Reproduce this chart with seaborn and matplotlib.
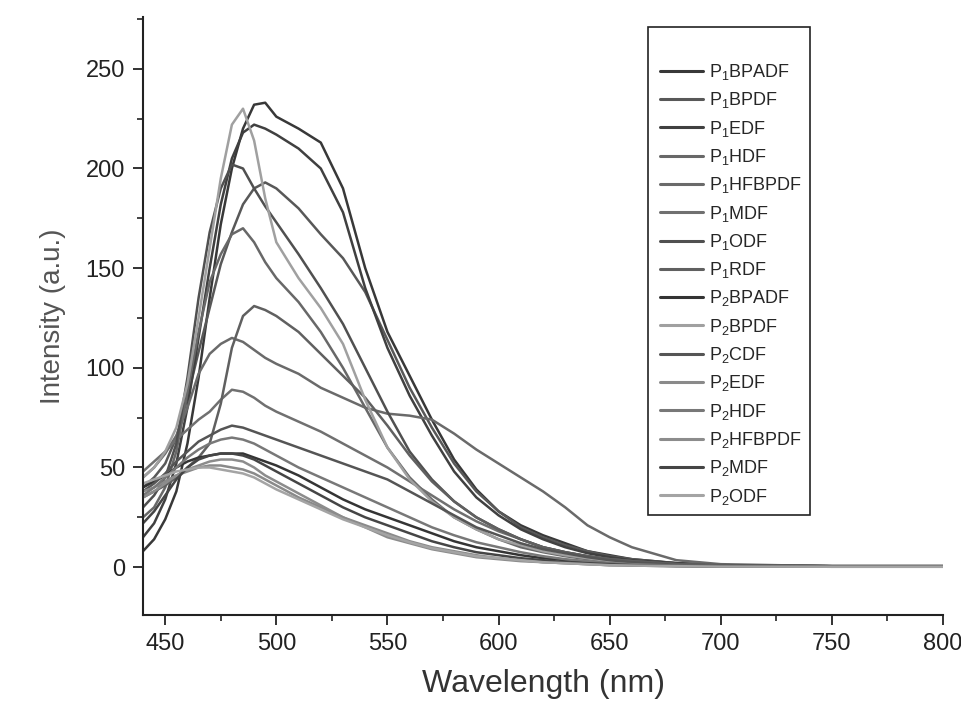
import matplotlib
matplotlib.use("Agg")
import matplotlib.pyplot as plt
from matplotlib.patches import Rectangle
from matplotlib.ticker import MultipleLocator
import pandas as pd
import seaborn as sns

# Emission wavelengths (nm) at which each spectrum is tabulated
wavelength = [440, 445, 450, 455, 460, 465, 470, 475, 480, 485, 490, 495, 500,
              510, 520, 530, 540, 550, 560, 570, 580, 590, 600, 610, 620, 630,
              640, 650, 660, 680, 700, 750, 800]

p1_bpadf = [8, 14, 24, 38, 62, 95, 135, 172, 200, 220, 232, 233, 226, 220, 213, 190, 150, 118,
            96, 74, 54, 39, 28, 21, 16, 12, 8, 6, 4, 2, 1, 0.5, 0.5]
p1_bpdf = [40, 45, 52, 65, 85, 108, 130, 152, 168, 182, 190, 193, 190, 180, 167, 155, 138, 114,
           90, 70, 52, 38, 28, 20, 15, 11, 8, 5.5, 4, 2, 1, 0.5, 0.5]
p1_edf = [15, 22, 34, 52, 80, 115, 150, 182, 205, 218, 222, 220, 217, 210, 200, 178, 140, 110,
          86, 66, 48, 35, 26, 19, 14, 10, 7, 5, 3.5, 2, 1, 0.5, 0.5]
p1_hdf = [25, 30, 40, 58, 88, 118, 143, 157, 167, 170, 163, 153, 145, 133, 118, 100, 80, 60,
          45, 34, 25, 19, 14, 10, 7.5, 5.5, 4, 3, 2, 1, 0.5, 0.3, 0.3]
p1_hfbpdf = [45, 50, 57, 66, 80, 97, 107, 112, 115, 113, 109, 105, 102, 97, 90, 85, 80, 77,
             76, 74, 67, 59, 52, 45, 38, 30, 21, 15, 10, 3.5, 1.5, 0.5, 0.5]
p1_mdf = [48, 53, 58, 64, 69, 74, 78, 84, 89, 88, 85, 81, 78, 73, 68, 62, 56, 50,
          43, 36, 29, 23, 18, 14, 10, 7.5, 5.5, 4, 3, 1.5, 1, 0.5, 0.5]
p1_odf = [30, 36, 45, 62, 95, 135, 168, 190, 202, 200, 190, 181, 173, 157, 140, 122, 100, 78,
          58, 44, 33, 25, 19, 14, 10, 7.5, 5.5, 4, 3, 1.5, 1, 0.5, 0.5]
p1_rdf = [35, 38, 41, 45, 50, 55, 62, 82, 110, 126, 131, 129, 126, 118, 107, 96, 85, 71,
          56, 43, 33, 25, 19, 14, 10, 7.5, 5.5, 4, 3, 1.5, 1, 0.5, 0.5]
p2_bpadf = [40, 43, 46, 50, 53, 55, 56, 57, 57, 57, 55, 53, 51, 46, 40, 34, 29, 25,
            21, 17, 13, 10, 8, 6, 4.5, 3.5, 2.5, 2, 1.5, 0.8, 0.5, 0.3, 0.3]
p2_bpdf = [45, 50, 58, 70, 92, 125, 160, 195, 222, 230, 214, 185, 163, 145, 130, 112, 84, 60,
           44, 33, 25, 19, 14, 11, 8, 6, 4.5, 3, 2, 1, 0.5, 0.3, 0.3]
p2_cdf = [38, 42, 47, 53, 58, 63, 66, 69, 71, 70, 68, 66, 64, 60, 56, 52, 48, 44,
          38, 32, 26, 20, 16, 12, 9, 7, 5, 3.5, 2.5, 1.2, 0.7, 0.3, 0.3]
p2_edf = [38, 40, 43, 46, 48, 50, 51, 51, 50, 49, 47, 44, 41, 35, 30, 25, 21, 17,
          13, 10, 8, 6, 4.5, 3.5, 2.5, 2, 1.5, 1, 0.8, 0.5, 0.3, 0.2, 0.2]
p2_hdf = [36, 40, 45, 50, 55, 59, 62, 64, 65, 64, 62, 59, 56, 50, 45, 40, 35, 30,
          25, 20, 16, 12.5, 10, 7.5, 5.5, 4, 3, 2, 1.5, 0.8, 0.5, 0.3, 0.3]
p2_hfbpdf = [35, 38, 42, 46, 49, 51, 53, 54, 54, 53, 50, 46, 43, 37, 31, 25, 20, 15,
             12, 9, 7, 5, 4, 3, 2.5, 2, 1.5, 1, 0.8, 0.5, 0.3, 0.2, 0.2]
p2_mdf = [22, 28, 36, 44, 50, 54, 56, 57, 57, 56, 54, 51, 48, 42, 36, 30, 25, 21,
          17, 13, 10, 7.5, 6, 4.5, 3.5, 2.5, 2, 1.5, 1, 0.6, 0.4, 0.2, 0.2]
p2_odf = [42, 44, 46, 48, 49, 50, 50, 49, 48, 47, 45, 42, 39, 34, 29, 24, 20, 16,
          12.5, 9.5, 7.5, 5.5, 4.5, 3.5, 2.5, 2, 1.5, 1, 0.8, 0.5, 0.3, 0.2, 0.2]

labels = ["P$_1$BPADF", "P$_1$BPDF", "P$_1$EDF", "P$_1$HDF", "P$_1$HFBPDF", "P$_1$MDF",
          "P$_1$ODF", "P$_1$RDF", "P$_2$BPADF", "P$_2$BPDF", "P$_2$CDF", "P$_2$EDF",
          "P$_2$HDF", "P$_2$HFBPDF", "P$_2$MDF", "P$_2$ODF"]
spectra = [p1_bpadf, p1_bpdf, p1_edf, p1_hdf, p1_hfbpdf, p1_mdf, p1_odf, p1_rdf,
           p2_bpadf, p2_bpdf, p2_cdf, p2_edf, p2_hdf, p2_hfbpdf, p2_mdf, p2_odf]
shades = ["#383838", "#585858", "#404040", "#686868", "#6a6a6a", "#707070", "#505050",
          "#606060", "#343434", "#a0a0a0", "#555555", "#8a8a8a", "#787878", "#8c8c8c",
          "#454545", "#a4a4a4"]

rows = []
for name, ys in zip(labels, spectra):
    for x, y in zip(wavelength, ys):
        rows.append({"Wavelength": x, "Intensity": y, "Sample": name})
df = pd.DataFrame(rows)

sns.set_style("ticks")
plt.rcParams["font.family"] = ["Liberation Sans", "DejaVu Sans"]
plt.rcParams["mathtext.fontset"] = "custom"
plt.rcParams["mathtext.rm"] = "Liberation Sans"
plt.rcParams["mathtext.it"] = "Liberation Sans"
plt.rcParams["mathtext.default"] = "regular"

fig = plt.figure(figsize=(9.62, 7.06), dpi=100)
ax = fig.add_axes([143 / 962, 91 / 706, 800 / 962, 598 / 706])

sns.lineplot(data=df, x="Wavelength", y="Intensity", hue="Sample",
             hue_order=labels, palette=dict(zip(labels, shades)),
             linewidth=1.8, ax=ax, legend=True)

ax.set_xlim(440, 800)
ax.set_ylim(-24, 276)
ax.xaxis.set_major_locator(MultipleLocator(50))
ax.xaxis.set_minor_locator(MultipleLocator(25))
ax.yaxis.set_major_locator(MultipleLocator(50))
ax.yaxis.set_minor_locator(MultipleLocator(25))
ax.tick_params(axis="both", which="major", direction="out", length=7, width=1.3,
               labelsize=17, colors="#222222", pad=6)
ax.tick_params(axis="both", which="minor", direction="out", length=4, width=1.2,
               colors="#222222")
for side in ("top", "right"):
    ax.spines[side].set_visible(False)
for side in ("left", "bottom"):
    ax.spines[side].set_linewidth(1.5)
    ax.spines[side].set_color("#222222")

ax.set_xlabel("Wavelength (nm)", fontsize=23, color="#333333", labelpad=10)
ax.set_ylabel("Intensity (a.u.)", fontsize=20, color="#555555", labelpad=14)

# Legend entries without their own frame; the box is drawn separately
handles, names = ax.get_legend_handles_labels()
leg = ax.legend(handles, names, loc="upper left",
                bbox_to_anchor=(660 / 962, 1 - 62 / 706), bbox_transform=fig.transFigure,
                frameon=False, fontsize=13, handlelength=2.4, handletextpad=0.3,
                labelspacing=0.46, borderpad=0, borderaxespad=0)
for line in leg.get_lines():
    line.set_linewidth(2.2)

fig.add_artist(Rectangle((648 / 962, 1 - 515 / 706), 162 / 962, 488 / 706,
                         transform=fig.transFigure, fill=False,
                         edgecolor="#222222", linewidth=1.2))

fig.savefig("out.png", dpi=100)
